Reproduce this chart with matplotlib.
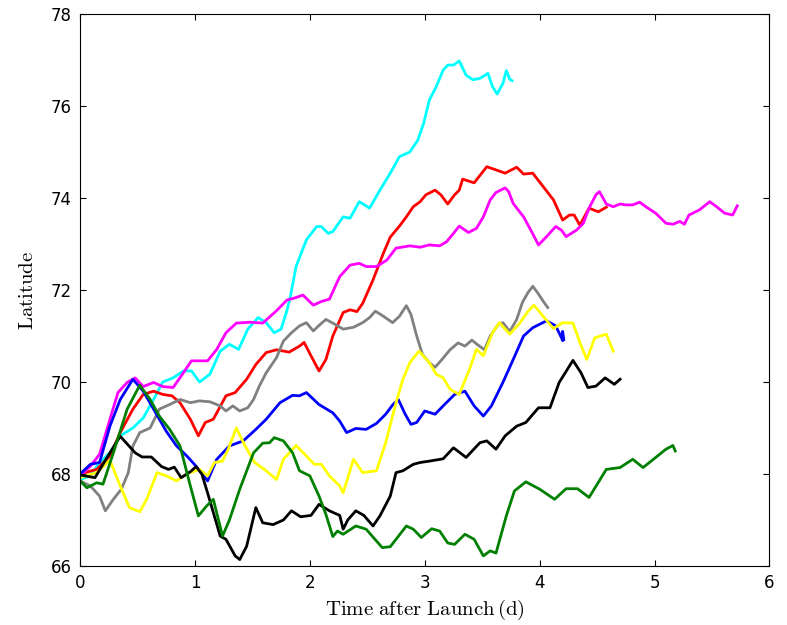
import matplotlib
matplotlib.use("Agg")
import matplotlib.pyplot as plt

# track latitude vs. time after launch, one list of (days, latitude) per balloon
cyan = [(0, 67.88), (0.09, 67.96), (0.17, 68.25), (0.26, 68.46), (0.35, 68.83), (0.46, 69.0),
        (0.55, 69.22), (0.64, 69.62), (0.72, 70.0), (0.81, 70.09), (0.9, 70.24), (0.97, 70.24),
        (1.04, 70.0), (1.13, 70.17), (1.22, 70.67), (1.3, 70.82), (1.38, 70.71), (1.46, 71.15),
        (1.55, 71.4), (1.62, 71.29), (1.69, 71.07), (1.75, 71.15), (1.8, 71.55), (1.83, 71.85),
        (1.88, 72.51), (1.97, 73.09), (2.06, 73.38), (2.1, 73.38), (2.16, 73.23), (2.2, 73.27),
        (2.29, 73.59), (2.35, 73.56), (2.43, 73.92), (2.52, 73.78), (2.61, 74.17), (2.7, 74.54),
        (2.78, 74.9), (2.87, 75.0), (2.94, 75.26), (2.99, 75.62), (3.04, 76.13), (3.1, 76.42),
        (3.16, 76.78), (3.2, 76.89), (3.25, 76.89), (3.3, 76.98), (3.36, 76.67), (3.42, 76.57),
        (3.48, 76.6), (3.55, 76.71), (3.59, 76.42), (3.63, 76.26), (3.68, 76.49), (3.71, 76.77),
        (3.74, 76.58), (3.76, 76.55)]
red = [(0, 68.0), (0.145, 68.1), (0.26, 68.39), (0.35, 68.9), (0.46, 69.41), (0.55, 69.73),
       (0.64, 69.8), (0.72, 69.73), (0.8, 69.7), (0.87, 69.55), (0.96, 69.19), (1.03, 68.83),
       (1.09, 69.12), (1.16, 69.19), (1.27, 69.7), (1.35, 69.77), (1.45, 70.06), (1.53, 70.38),
       (1.62, 70.64), (1.71, 70.7), (1.82, 70.65), (1.91, 70.78), (1.95, 70.86), (2.01, 70.57),
       (2.08, 70.24), (2.14, 70.49), (2.2, 71.0), (2.29, 71.51), (2.35, 71.57), (2.41, 71.53),
       (2.46, 71.71), (2.55, 72.22), (2.64, 72.8), (2.7, 73.15), (2.78, 73.39), (2.84, 73.59),
       (2.9, 73.81), (2.96, 73.92), (3.01, 74.07), (3.09, 74.17), (3.14, 74.07), (3.2, 73.87),
       (3.26, 74.07), (3.3, 74.17), (3.33, 74.41), (3.43, 74.33), (3.54, 74.68), (3.61, 74.62),
       (3.7, 74.54), (3.8, 74.67), (3.86, 74.52), (3.94, 74.54), (4.03, 74.25), (4.12, 73.96),
       (4.2, 73.52), (4.26, 73.63), (4.3, 73.63), (4.35, 73.41), (4.43, 73.78), (4.51, 73.7),
       (4.58, 73.8)]
magenta = [(0, 67.96), (0.09, 68.17), (0.17, 68.43), (0.26, 69.19), (0.33, 69.77), (0.41, 69.99),
           (0.48, 70.09), (0.55, 69.9), (0.64, 69.99), (0.72, 69.9), (0.81, 69.88), (0.88, 70.13),
           (0.97, 70.46), (1.04, 70.46), (1.11, 70.46), (1.19, 70.71), (1.27, 71.07), (1.36, 71.28),
           (1.48, 71.3), (1.59, 71.28), (1.71, 71.55), (1.8, 71.78), (1.86, 71.82), (1.94, 71.89),
           (2.03, 71.67), (2.1, 71.75), (2.17, 71.8), (2.26, 72.29), (2.35, 72.54), (2.43, 72.58),
           (2.49, 72.51), (2.58, 72.51), (2.67, 72.65), (2.75, 72.91), (2.87, 72.96), (2.96, 72.93),
           (3.04, 72.98), (3.13, 72.96), (3.19, 73.05), (3.25, 73.23), (3.3, 73.39), (3.38, 73.25),
           (3.45, 73.34), (3.51, 73.59), (3.57, 73.96), (3.62, 74.12), (3.7, 74.22), (3.73, 74.14),
           (3.77, 73.88), (3.86, 73.59), (3.93, 73.27), (3.99, 72.98), (4.06, 73.16), (4.14, 73.38),
           (4.19, 73.3), (4.23, 73.16), (4.32, 73.3), (4.38, 73.45), (4.43, 73.78), (4.49, 74.07),
           (4.52, 74.14), (4.58, 73.87), (4.64, 73.81), (4.7, 73.87), (4.75, 73.85), (4.81, 73.85),
           (4.87, 73.91), (4.93, 73.8), (5.01, 73.67), (5.1, 73.45), (5.16, 73.43), (5.22, 73.49),
           (5.26, 73.43), (5.3, 73.63), (5.39, 73.74), (5.48, 73.92), (5.54, 73.81), (5.61, 73.67),
           (5.68, 73.63), (5.72, 73.83)]
gray = [(0, 67.85), (0.09, 67.74), (0.17, 67.52), (0.22, 67.2), (0.29, 67.45), (0.36, 67.67),
        (0.42, 68.03), (0.46, 68.61), (0.52, 68.9), (0.61, 69.0), (0.69, 69.41), (0.78, 69.51),
        (0.87, 69.62), (0.96, 69.55), (1.04, 69.59), (1.13, 69.57), (1.22, 69.48), (1.27, 69.37),
        (1.33, 69.48), (1.39, 69.37), (1.46, 69.44), (1.51, 69.62), (1.56, 69.91), (1.62, 70.2),
        (1.71, 70.53), (1.77, 70.89), (1.84, 71.07), (1.91, 71.22), (1.97, 71.29), (2.03, 71.11),
        (2.08, 71.23), (2.14, 71.36), (2.2, 71.28), (2.29, 71.15), (2.38, 71.19), (2.46, 71.29),
        (2.52, 71.4), (2.57, 71.54), (2.64, 71.43), (2.72, 71.29), (2.78, 71.43), (2.84, 71.66),
        (2.88, 71.47), (2.93, 71.0), (2.98, 70.6), (3.04, 70.42), (3.09, 70.32), (3.15, 70.49),
        (3.22, 70.7), (3.29, 70.85), (3.35, 70.78), (3.41, 70.91), (3.46, 70.81), (3.52, 70.7),
        (3.57, 71.0), (3.64, 71.25), (3.68, 71.29), (3.74, 71.1), (3.8, 71.36), (3.85, 71.73),
        (3.9, 71.95), (3.94, 72.08), (3.98, 71.95), (4.03, 71.76), (4.07, 71.62)]
blue = [(0, 68.0), (0.09, 68.21), (0.17, 68.25), (0.26, 69.04), (0.35, 69.62), (0.46, 70.06),
        (0.55, 69.8), (0.64, 69.41), (0.75, 68.93), (0.84, 68.61), (0.93, 68.39), (1.01, 68.17),
        (1.11, 67.85), (1.19, 68.32), (1.3, 68.61), (1.42, 68.72), (1.53, 68.97), (1.62, 69.19),
        (1.74, 69.55), (1.85, 69.71), (1.91, 69.7), (1.97, 69.77), (2.08, 69.51), (2.2, 69.33),
        (2.26, 69.15), (2.32, 68.9), (2.4, 68.99), (2.49, 68.97), (2.58, 69.1), (2.66, 69.3),
        (2.72, 69.5), (2.77, 69.62), (2.83, 69.3), (2.88, 69.08), (2.93, 69.12), (3.0, 69.37),
        (3.09, 69.3), (3.16, 69.48), (3.26, 69.73), (3.35, 69.8), (3.43, 69.48), (3.51, 69.26),
        (3.58, 69.48), (3.68, 69.99), (3.77, 70.49), (3.86, 71.0), (3.94, 71.18), (4.06, 71.33),
        (4.14, 71.22), (4.19, 70.96), (4.2, 70.9), (4.2, 71.1), (4.21, 70.92)]
yellow = [(0, 67.92), (0.145, 68.03), (0.26, 68.3), (0.35, 67.74), (0.43, 67.27), (0.52, 67.18),
          (0.58, 67.45), (0.67, 68.03), (0.75, 67.96), (0.84, 67.85), (0.93, 68.0), (1.04, 68.1),
          (1.11, 67.96), (1.17, 68.25), (1.24, 68.28), (1.29, 68.54), (1.36, 69.0), (1.43, 68.64),
          (1.52, 68.25), (1.62, 68.07), (1.71, 67.88), (1.77, 68.32), (1.88, 68.62), (1.97, 68.39),
          (2.04, 68.21), (2.1, 68.21), (2.17, 67.96), (2.26, 67.74), (2.29, 67.59), (2.38, 68.32),
          (2.46, 68.03), (2.58, 68.07), (2.66, 68.68), (2.75, 69.55), (2.81, 70.06), (2.87, 70.42),
          (2.95, 70.67), (3.04, 70.42), (3.1, 70.17), (3.16, 70.09), (3.22, 69.84), (3.3, 69.73),
          (3.39, 70.28), (3.45, 70.71), (3.51, 70.57), (3.59, 71.07), (3.65, 71.29), (3.74, 71.04),
          (3.83, 71.29), (3.9, 71.54), (3.95, 71.67), (4.04, 71.4), (4.12, 71.16), (4.2, 71.29),
          (4.29, 71.28), (4.35, 70.86), (4.41, 70.49), (4.48, 70.96), (4.54, 71.01), (4.58, 71.04),
          (4.64, 70.67)]
black = [(0, 67.98), (0.13, 67.92), (0.24, 68.38), (0.35, 68.82), (0.48, 68.46), (0.54, 68.37),
         (0.62, 68.37), (0.71, 68.16), (0.77, 68.1), (0.82, 68.15), (0.88, 67.92), (0.96, 68.05),
         (1.01, 68.16), (1.06, 68.0), (1.11, 67.59), (1.22, 66.65), (1.27, 66.58), (1.35, 66.22),
         (1.39, 66.14), (1.45, 66.43), (1.53, 67.27), (1.59, 66.94), (1.68, 66.9), (1.77, 67.0),
         (1.84, 67.2), (1.92, 67.07), (2.01, 67.1), (2.08, 67.34), (2.17, 67.2), (2.26, 67.1),
         (2.29, 66.8), (2.33, 67.0), (2.4, 67.2), (2.47, 67.1), (2.55, 66.87), (2.61, 67.09),
         (2.7, 67.52), (2.75, 68.03), (2.81, 68.07), (2.9, 68.21), (2.96, 68.25), (3.04, 68.28),
         (3.16, 68.33), (3.25, 68.57), (3.36, 68.36), (3.48, 68.68), (3.54, 68.72), (3.62, 68.54),
         (3.7, 68.83), (3.8, 69.04), (3.88, 69.12), (3.99, 69.44), (4.09, 69.44), (4.17, 69.99),
         (4.29, 70.47), (4.36, 70.2), (4.42, 69.88), (4.49, 69.91), (4.57, 70.09), (4.65, 69.95),
         (4.7, 70.06)]
green = [(0, 67.85), (0.06, 67.7), (0.145, 67.81), (0.2, 67.78), (0.29, 68.46), (0.41, 69.41),
         (0.52, 69.93), (0.61, 69.62), (0.69, 69.26), (0.78, 68.97), (0.87, 68.61), (0.96, 67.74),
         (1.03, 67.09), (1.1, 67.3), (1.16, 67.45), (1.24, 66.65), (1.3, 67.0), (1.39, 67.67),
         (1.51, 68.46), (1.59, 68.67), (1.65, 68.68), (1.69, 68.79), (1.77, 68.72), (1.85, 68.46),
         (1.91, 68.07), (2.0, 67.96), (2.08, 67.52), (2.14, 67.12), (2.2, 66.64), (2.24, 66.76),
         (2.29, 66.69), (2.4, 66.87), (2.49, 66.8), (2.63, 66.4), (2.7, 66.42), (2.75, 66.58),
         (2.84, 66.87), (2.9, 66.8), (2.97, 66.62), (3.06, 66.81), (3.13, 66.76), (3.2, 66.5),
         (3.26, 66.47), (3.35, 66.69), (3.43, 66.58), (3.51, 66.22), (3.57, 66.33), (3.62, 66.28),
         (3.71, 67.09), (3.78, 67.63), (3.88, 67.83), (4.0, 67.67), (4.13, 67.45), (4.23, 67.68),
         (4.33, 67.68), (4.43, 67.49), (4.58, 68.1), (4.7, 68.14), (4.81, 68.32), (4.9, 68.14),
         (5.01, 68.36), (5.1, 68.54), (5.16, 68.62), (5.18, 68.5)]

tracks = [(cyan, "cyan"), (red, "red"), (magenta, "magenta"), (gray, "gray"),
          (blue, "blue"), (yellow, "yellow"), (black, "black"), (green, "green")]

plt.rcParams["font.size"] = 12
plt.rcParams["mathtext.fontset"] = "cm"
plt.rcParams["xtick.direction"] = "in"
plt.rcParams["ytick.direction"] = "in"
plt.rcParams["xtick.top"] = True
plt.rcParams["ytick.right"] = True
plt.rcParams["xtick.major.size"] = 4
plt.rcParams["ytick.major.size"] = 4

fig = plt.figure(figsize=(7.87, 6.25), dpi=100)
ax = fig.add_axes([0.1017, 0.0944, 0.876, 0.8832])

for pts, col in tracks:
    t = [p[0] for p in pts]
    lat = [p[1] for p in pts]
    ax.plot(t, lat, color=col, lw=2)

ax.set_xlim(0, 6)
ax.set_ylim(66, 78)
ax.set_xticks(range(0, 7))
ax.set_yticks(range(66, 79, 2))
ax.tick_params(pad=6)
ax.set_xlabel(r"$\mathrm{Time\ after\ Launch}\,\mathrm{(d)}$", fontsize=15, labelpad=4)
ax.set_ylabel(r"$\mathrm{Latitude}$", fontsize=15, labelpad=10)

fig.savefig("out.png", dpi=100)
